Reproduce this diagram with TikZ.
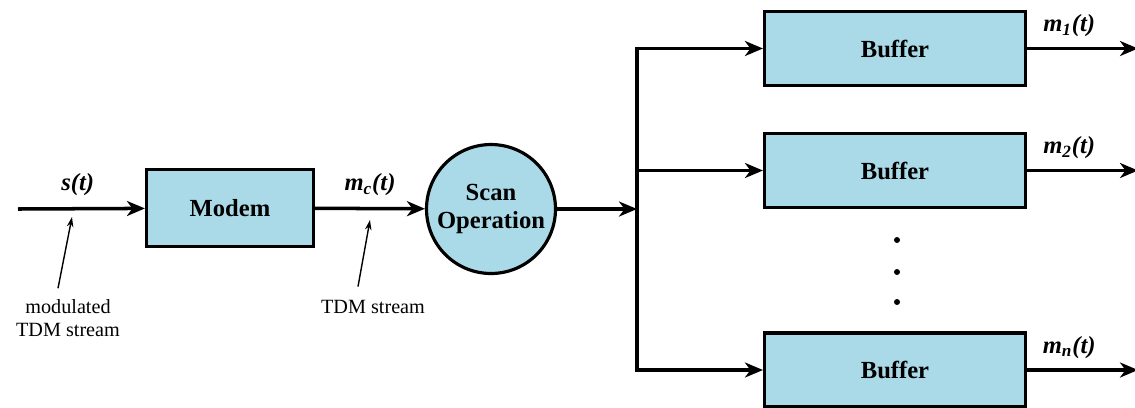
\documentclass[tikz,border=0pt]{standalone}
\usepackage{fontspec}
\setmainfont{Liberation Serif}
\usetikzlibrary{arrows.meta, positioning}
\definecolor{boxblue}{RGB}{170,218,232}

\begin{document}
\begin{tikzpicture}[
  x=0.02cm, y=-0.02cm,
  block/.style={
    rectangle, draw=black, line width=1.8pt, fill=boxblue, align=center,
    minimum width=3.34cm, minimum height=1.54cm, inner sep=2pt,
    font=\fontsize{14}{16}\selectfont\bfseries
  },
  buffer/.style={block, minimum width=5.22cm, minimum height=1.48cm},
  scanner/.style={
    circle, draw=black, line width=1.8pt, fill=boxblue, align=center,
    minimum size=2.58cm, inner sep=0pt, font=\fontsize{14}{16}\selectfont\bfseries
  },
  dot/.style={circle, fill=black, minimum size=0.12cm, inner sep=0pt},
  flow/.style={-{Stealth[length=0.36cm, width=0.3cm, inset=0.11cm]}, line width=2pt},
  pointer/.style={-{Stealth[length=0.2cm, width=0.13cm]}, line width=0.8pt},
  signal/.style={font=\fontsize{14}{16}\selectfont\bfseries\itshape},
  note/.style={align=center, font=\fontsize{11.5}{13}\selectfont}
]
\useasboundingbox (0,0) rectangle (1135,407);

% ----------------- BLOCKS -----------------
\node[block] (modem) at (230,208) {Modem};
\node[scanner] (scan) at (491,209) {Scan\\Operation};

\node[buffer] (buf1) at (895,48.5) {Buffer};
\node[buffer] (buf2) at (895,170.5) {Buffer};
\node[buffer] (bufn) at (895,370) {Buffer};

\node[dot] (dot1) at (897,240) {};
\node[dot] (dot2) at (897,272) {};
\node[dot] (dot3) at (897,302) {};

% ----------------- END POINTS -----------------
\coordinate (sin) at (18,209);
\coordinate (split) at (637,209);
\coordinate (out1) at (1138,48.5);
\coordinate (out2) at (1138,170.5);
\coordinate (outn) at (1138,370);

% ----------------- SIGNAL FLOW -----------------
\draw[flow] (sin) -- node[signal, above=0.1cm, pos=0.47] {s(t)} (modem);
\draw[flow] (modem) -- node[signal, above=0.1cm] {m\textsubscript{c}(t)} (scan);
\draw[flow] (scan) -- (split);

\draw[flow] (split) |- (buf1);
\draw[flow] (split) |- (buf2);
\draw[flow] (split) |- (bufn);

\draw[flow] (buf1) -- node[signal, above=0.08cm, pos=0.38] {m\textsubscript{1}(t)} (out1);
\draw[flow] (buf2) -- node[signal, above=0.08cm, pos=0.38] {m\textsubscript{2}(t)} (out2);
\draw[flow] (bufn) -- node[signal, above=0.08cm, pos=0.38] {m\textsubscript{n}(t)} (outn);

% ----------------- ANNOTATIONS -----------------
\node[note] (modnote) at (68,318) {modulated\\TDM stream};
\node[note] (tdmnote) at (373,307) {TDM stream};

\coordinate (stip) at (72,217);
\coordinate (mtip) at (370,220);

\draw[pointer] ([xshift=-0.2cm, yshift=0.1cm]modnote.north) -- (stip);
\draw[pointer] ([xshift=-0.3cm, yshift=0.15cm]tdmnote.north) -- (mtip);

\end{tikzpicture}
\end{document}
